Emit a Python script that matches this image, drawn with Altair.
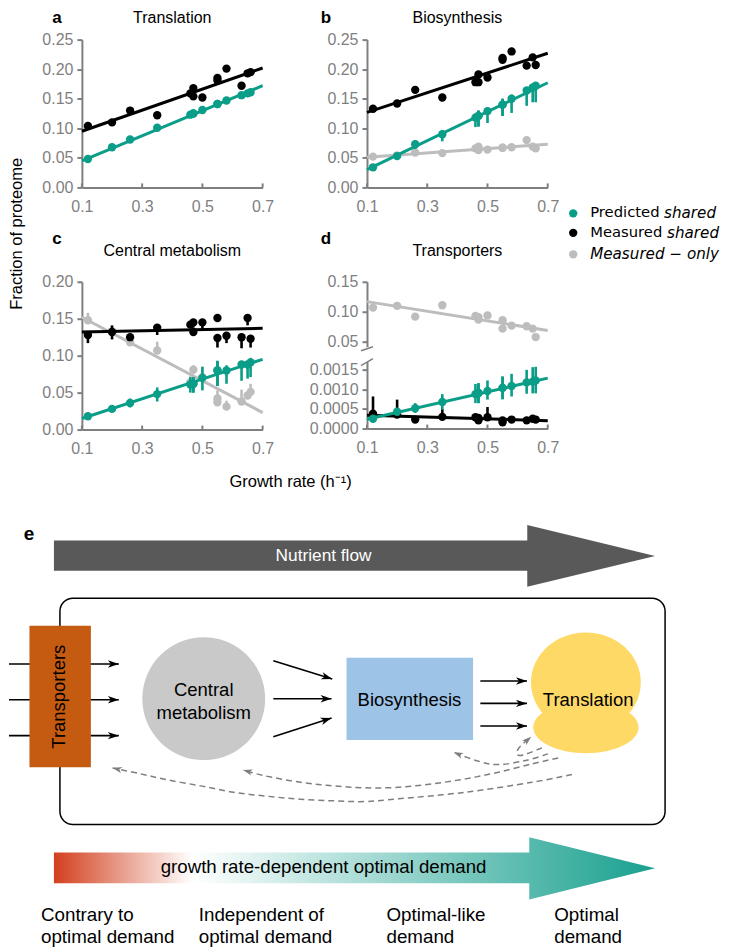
import math
import altair as alt
import pandas as pd

# ---- growth rates shared by all panels
growth = [0.12, 0.20, 0.26, 0.35, 0.46, 0.47, 0.47, 0.50, 0.55, 0.55, 0.58, 0.63, 0.65, 0.66]

GREEN = "#0a9d88"
BLACK = "#000000"
GRAY = "#bdbdbd"
AXIS = "#7f7f7f"
SANS = "Liberation Sans"
DEJAVU = "DejaVu Sans"

# ---- panel a
a_black = [0.104, 0.110, 0.130, 0.122, 0.159, 0.168, 0.154, 0.152, 0.185, 0.181, 0.201, 0.172, 0.193, 0.195]
a_green = [0.048, 0.068, 0.081, 0.101, 0.123, 0.125, 0.125, 0.131, 0.141, 0.141, 0.147, 0.156, 0.159, 0.161]
a_black_line = [0.095, 0.202]
a_green_line = [0.045, 0.172]

# ---- panel b
b_black = [0.133, 0.142, 0.165, 0.152, 0.178, 0.191, 0.178, 0.186, 0.219, 0.216, 0.230, 0.206, 0.220, 0.207]
b_green = [0.034, 0.053, 0.073, 0.090, 0.118, 0.121, 0.121, 0.129, 0.140, 0.140, 0.150, 0.164, 0.169, 0.172]
b_green_lo = [0.034, 0.047, 0.065, 0.078, 0.102, 0.103, 0.103, 0.109, 0.121, 0.121, 0.126, 0.138, 0.144, 0.144]
b_green_hi = [0.034, 0.057, 0.080, 0.097, 0.125, 0.130, 0.130, 0.135, 0.150, 0.150, 0.157, 0.169, 0.175, 0.178]
b_gray = [0.052, 0.054, 0.059, 0.058, 0.066, 0.069, 0.063, 0.064, 0.067, 0.067, 0.068, 0.080, 0.069, 0.066]
b_black_line = [0.127, 0.227]
b_green_line = [0.030, 0.177]
b_gray_line = [0.051, 0.073]

# ---- panel c
c_black = [0.128, 0.132, 0.125, 0.138, 0.142, 0.145, 0.132, 0.145, 0.151, 0.124, 0.127, 0.125, 0.151, 0.123]
c_black_lo = [0.117, 0.122, 0.125, 0.128, 0.138, 0.138, 0.132, 0.135, 0.151, 0.111, 0.117, 0.110, 0.141, 0.111]
c_black_hi = [0.128, 0.141, 0.125, 0.142, 0.142, 0.145, 0.132, 0.145, 0.151, 0.124, 0.127, 0.125, 0.151, 0.123]
c_green = [0.018, 0.028, 0.036, 0.048, 0.061, 0.062, 0.062, 0.070, 0.080, 0.080, 0.080, 0.088, 0.088, 0.091]
c_green_lo = [0.016, 0.024, 0.030, 0.038, 0.050, 0.050, 0.050, 0.053, 0.059, 0.059, 0.062, 0.066, 0.069, 0.071]
c_green_hi = [0.020, 0.032, 0.042, 0.057, 0.071, 0.071, 0.071, 0.085, 0.093, 0.093, 0.087, 0.092, 0.092, 0.097]
c_gray = [0.148, 0.133, 0.118, 0.107, 0.064, 0.081, 0.062, 0.071, 0.042, 0.037, 0.031, 0.038, 0.046, 0.051]
c_gray_lo = [0.148, 0.133, 0.118, 0.107, 0.064, 0.081, 0.062, 0.071, 0.042, 0.037, 0.031, 0.038, 0.046, 0.051]
c_gray_hi = [0.158, 0.138, 0.122, 0.119, 0.072, 0.087, 0.068, 0.085, 0.053, 0.045, 0.039, 0.054, 0.052, 0.062]
c_black_line = [0.132, 0.137]
c_green_line = [0.015, 0.095]
c_gray_line = [0.152, 0.023]

# ---- panel d, upper part
d_gray = [0.107, 0.110, 0.092, 0.111, 0.093, 0.087, 0.091, 0.094, 0.086, 0.072, 0.077, 0.076, 0.072, 0.058]
d_gray_line = [0.117, 0.069]

# ---- panel d, lower part
d_green = [0.00025, 0.00043, 0.00052, 0.00068, 0.00088, 0.00091, 0.00091, 0.00096, 0.00104, 0.00104, 0.00109, 0.00118, 0.00120, 0.00123]
d_green_lo = [0.00025, 0.00037, 0.00040, 0.00048, 0.00065, 0.00065, 0.00065, 0.00074, 0.00075, 0.00075, 0.00082, 0.00089, 0.00090, 0.00090]
d_green_hi = [0.00025, 0.00049, 0.00065, 0.00088, 0.00114, 0.00116, 0.00116, 0.00123, 0.00133, 0.00133, 0.00140, 0.00150, 0.00157, 0.00158]
d_black = [0.00038, 0.00036, 0.00023, 0.00030, 0.00029, 0.00021, 0.00027, 0.00029, 0.00021, 0.00016, 0.00023, 0.00021, 0.00025, 0.00023]
d_black_lo = list(d_black)
d_black_hi = [0.00082, 0.00074, 0.00023, 0.00050, 0.00029, 0.00021, 0.00027, 0.00055, 0.00021, 0.00016, 0.00023, 0.00021, 0.00025, 0.00023]
d_black_line = [0.00034, 0.00020]
d_green_line = [0.00024, 0.00129]

x_ends = [0.1, 0.7]
x_ticks = [0.1, 0.3, 0.5, 0.7]

W = 181


def x_enc(show=True):
    axis = alt.Axis(values=x_ticks, format=".1f", title=None, ticks=False, labelPadding=11, labelFlush=False) if show else None
    return alt.X("x:Q", scale=alt.Scale(domain=x_ends, nice=False, zero=False), axis=axis)


def y_enc(domain, ticks, fmt):
    return alt.Y("y:Q", scale=alt.Scale(domain=domain, nice=False, zero=False),
                 axis=alt.Axis(values=ticks, format=fmt, title=None, labelFlush=False))


def series(ys, line, color, y, lo=None, hi=None, xa=True):
    layers = []
    layers.append(alt.Chart(pd.DataFrame({"x": x_ends, "y": line})).mark_line(color=color, strokeWidth=3, clip=False)
                  .encode(x=x_enc(xa), y=y))
    if lo is not None:
        layers.append(alt.Chart(pd.DataFrame({"x": growth, "y": lo, "y2": hi})).mark_rule(color=color, strokeWidth=2.6)
                      .encode(x=x_enc(xa), y=y, y2="y2:Q"))
    layers.append(alt.Chart(pd.DataFrame({"x": growth, "y": ys})).mark_point(filled=True, color=color, size=70, opacity=1)
                  .encode(x=x_enc(xa), y=y))
    return layers


def label(text, px, py, size=16, weight="normal", color="#000000", font=SANS, align="center", angle=0, style="normal"):
    return alt.Chart(pd.DataFrame({"t": [text]})).mark_text(
        font=font, fontSize=size, fontWeight=weight, color=color, align=align, baseline="middle",
        angle=angle, fontStyle=style
    ).encode(text="t:N", x=alt.value(px), y=alt.value(py))


def panel(layers, w, h, title=None, letter=None, letter_x=-25, tx=True, title_y=-22, letter_y=-21.5):
    out = list(layers)
    if tx:
        out.append(alt.Chart(pd.DataFrame({"x": x_ticks})).mark_rule(color=AXIS, strokeWidth=2)
                   .encode(x=x_enc(True), y=alt.value(h - 4), y2=alt.value(h)))
    if title:
        out.append(label(title, w / 2, title_y))
    if letter:
        out.append(label(letter, letter_x, letter_y, size=17, weight="bold"))
    return alt.layer(*out).properties(width=w, height=h)


ya = y_enc([0, 0.25], [0, 0.05, 0.10, 0.15, 0.20, 0.25], ".2f")
yc = y_enc([0, 0.20], [0, 0.05, 0.10, 0.15, 0.20], ".2f")
yd1 = y_enc([0.042, 0.15], [0.05, 0.10, 0.15], ".2f")
yd2 = y_enc([0, 0.00171], [0, 0.0005, 0.0010, 0.0015], ".4f")

pa = panel(series(a_black, a_black_line, BLACK, ya) + series(a_green, a_green_line, GREEN, ya),
           W, 148, "Translation", "a")
pb = panel(series(b_gray, b_gray_line, GRAY, ya) + series(b_black, b_black_line, BLACK, ya)
           + series(b_green, b_green_line, GREEN, ya, b_green_lo, b_green_hi),
           W, 148, "Biosynthesis", "b", -41)
pc = panel(series(c_gray, c_gray_line, GRAY, yc, c_gray_lo, c_gray_hi)
           + series(c_black, c_black_line, BLACK, yc, c_black_lo, c_black_hi)
           + series(c_green, c_green_line, GREEN, yc, c_green_lo, c_green_hi),
           W, 148, "Central metabolism", "c", title_y=-31, letter_y=-42.5)
brk1 = alt.Chart(pd.DataFrame({"x": [0.1]})).mark_rule(color=AXIS, strokeWidth=1.5).encode(
    x=alt.value(-6), x2=alt.value(6), y=alt.value(69), y2=alt.value(65))
pd1 = alt.layer(*series(d_gray, d_gray_line, GRAY, yd1, xa=False),
                brk1,
                label("Transporters", W / 2, -31),
                label("d", -41, -42.5, size=17, weight="bold")).properties(width=W, height=65)
brk2 = alt.Chart(pd.DataFrame({"x": [0.1]})).mark_rule(color=AXIS, strokeWidth=1.5).encode(
    x=alt.value(-6), x2=alt.value(6), y=alt.value(4), y2=alt.value(-3))
pd2 = panel(series(d_black, d_black_line, BLACK, yd2, d_black_lo, d_black_hi)
            + series(d_green, d_green_line, GREEN, yd2, d_green_lo, d_green_hi) + [brk2],
            W, 67)

# ---- legend
leg_names = ["Predicted ", "Measured ", "Measured \u2212 only"]
leg_colors = [GREEN, BLACK, GRAY]
leg_y = [174, 193.5, 215]
leg_x_dot = 8
leg_x_text = 25
leg_extra = ["shared", "shared"]
leg_extra_x = [99, 102]
LEG = 14.8
LEG_IT = 15.2
leg_layers = []
for n, c, yy in zip(leg_names, leg_colors, leg_y):
    leg_layers.append(alt.Chart(pd.DataFrame({"k": [n]})).mark_point(filled=True, size=70, color=c, opacity=1)
                      .encode(x=alt.value(leg_x_dot), y=alt.value(yy)))
leg_layers.append(label(leg_names[0], leg_x_text, leg_y[0], LEG, font=DEJAVU, align="left"))
leg_layers.append(label(leg_names[1], leg_x_text, leg_y[1], LEG, font=DEJAVU, align="left"))
leg_layers.append(label(leg_names[2], leg_x_text, leg_y[2], LEG_IT, font=DEJAVU, align="left", style="italic"))
leg_layers.append(label(leg_extra[0], leg_extra_x[0], leg_y[0], LEG_IT, font=DEJAVU, align="left", style="italic"))
leg_layers.append(label(leg_extra[1], leg_extra_x[1], leg_y[1], LEG_IT, font=DEJAVU, align="left", style="italic"))
legend = alt.layer(*leg_layers).properties(width=130, height=260)

ylab = alt.layer(label("Fraction of proteome", 8, 194.5, 16.5, angle=270)).properties(width=1, height=300)

# ---- diagram, in its own coordinate system
DX0, DX1 = 8, 722
DY0, DY1 = 460, 945
dx = alt.X("x:Q", scale=alt.Scale(domain=[DX0, DX1], nice=False, zero=False), axis=None)
dy = alt.Y("y:Q", scale=alt.Scale(domain=[DY1, DY0], nice=False, zero=False), axis=None)
dx2 = alt.X2("x2:Q")
dy2 = alt.Y2("y2:Q")

flow_x = [53, 527, 527, 655]
flow_top = [539.5, 539.5, 524, 555]
flow_bot = [570, 570, 586, 555]
demand_x = [53, 529, 529, 655]
demand_top = [852, 852, 836.7, 867.7]
demand_bot = [882.7, 882.7, 899, 867.7]

gradient = alt.Gradient(gradient="linear", x1=0, x2=1, y1=0, y2=0, stops=[
    alt.GradientStop(color="#d2401e", offset=0),
    alt.GradientStop(color="#ffffff", offset=0.23),
    alt.GradientStop(color="#19a08f", offset=1),
])


def arrow_poly(xs, top, bot, **kw):
    return alt.Chart(pd.DataFrame({"x": xs, "y": top, "y2": bot})).mark_area(**kw).encode(x=dx, y=dy, y2=dy2)


def box(x1, x2, y1, y2, **kw):
    return alt.Chart(pd.DataFrame({"x": [x1], "x2": [x2], "y": [y1], "y2": [y2]})).mark_rect(**kw).encode(
        x=dx, x2=dx2, y=dy, y2=dy2)


def dtext(text, x, y, size=18.5, color="#000000", weight="normal", align="center", angle=0, font=SANS):
    return alt.Chart(pd.DataFrame({"x": [x], "y": [y], "t": [text]})).mark_text(
        font=font, fontSize=size, color=color, fontWeight=weight, align=align, baseline="middle", angle=angle
    ).encode(x=dx, y=dy, text="t:N")


def ellipse_path(ratio):
    k = 0.5523
    r = ratio
    return (f"M-1,0C-1,{-k*r} {-k},{-r} 0,{-r}C{k},{-r} 1,{-k*r} 1,0"
            f"C1,{k*r} {k},{r} 0,{r}C{-k},{r} -1,{k*r} -1,0Z")


def ellipse(cx, cy, rx, ry, color):
    return alt.Chart(pd.DataFrame({"x": [cx], "y": [cy]})).mark_point(
        filled=True, shape=ellipse_path(ry / rx), size=(2 * rx) ** 2, color=color, opacity=1, strokeWidth=0
    ).encode(x=dx, y=dy)


HEAD = "M0,0L-2,-0.68L-1.45,0L-2,0.68Z"

# straight black arrows: start x, start y, tip x, tip y
straight = [
    (8, 663.3, 118, 663.3), (8, 699, 118, 699), (8, 735, 118, 735),
    (272.7, 660, 331.7, 678.3), (272.7, 698, 331, 698), (272.7, 736, 331, 717.3),
    (480, 680.3, 526.7, 680.3), (480, 702.7, 526.7, 702.7), (480, 725.3, 526.7, 725.3),
]
straight_df = pd.DataFrame(straight, columns=["x", "y", "x2", "y2"])
left_df = straight_df.iloc[:3]
other_df = straight_df.iloc[3:]
tips_df = pd.DataFrame({
    "x": straight_df["x2"], "y": straight_df["y2"],
    "a": [math.degrees(math.atan2(r.y2 - r.y, r.x2 - r.x)) for r in straight_df.itertuples()],
})


def lines(df):
    return alt.Chart(df).mark_rule(color="#000000", strokeWidth=1.6).encode(x=dx, y=dy, x2=dx2, y2=dy2)


# dashed feedback curves
curve_1 = [(541.7, 747.3), (523.3, 754.3), (517.7, 754.3), (516.7, 750.7), (520.7, 745), (531, 736)]
curve_2 = [(547.7, 753.3), (525, 760), (498.3, 764), (478.3, 760.7), (453.3, 751.7)]
curve_3 = [(558, 757.3), (531.7, 763.3), (498, 771.7), (465, 778.3), (431.7, 783.3), (398, 786.7), (365, 787.3),
           (333, 785.3), (300, 781.7), (263, 775), (242.3, 769.3)]
curve_4 = [(571.7, 774), (531.7, 781.7), (465, 791.7), (398, 798.3), (365, 801), (333, 800.3), (300, 798.7),
           (266.7, 795.7), (233, 791.7), (200, 785.3), (166.7, 779.3), (140, 773.3), (111.7, 767.3)]
curves = []
for i, c in enumerate([curve_1, curve_2, curve_3, curve_4]):
    for j, (px, py) in enumerate(c):
        curves.append({"x": px, "y": py, "c": i, "o": j})
curve_df = pd.DataFrame(curves)
curve_tips = pd.DataFrame({"x": [531, 453.3, 242.3, 111.7], "y": [736, 751.7, 769.3, 767.3], "a": [319, 202, 196, 193]})


def heads(df, color, size):
    return alt.Chart(df).mark_point(filled=True, shape=HEAD, size=size, color=color, opacity=1, strokeWidth=0).encode(
        x=dx, y=dy, angle=alt.Angle("a:Q", scale=None))


diagram = alt.layer(
    dtext("Growth rate (h\u207b\u00b9)", 290, 480.7, 16.5),
    dtext("e", 28, 533, 19, weight="bold"),
    arrow_poly(flow_x, flow_top, flow_bot, color="#595959"),
    dtext("Nutrient flow", 323, 555, 17.3, color="#ffffff"),
    box(59, 665, 597.3, 824, fill="transparent", stroke="#000000", strokeWidth=1.5, cornerRadius=13),
    lines(left_df),
    box(28.5, 90, 625, 766.7, color="#c55a11"),
    dtext("Transporters", 58, 696, 18.5, angle=270),
    lines(other_df),
    heads(tips_df, "#000000", 121),
    ellipse(203, 698, 61.5, 61.5, "#c9c9c9"),
    dtext("Central", 203, 689, 18.5),
    dtext("metabolism", 203, 712, 18.5),
    box(346, 472.7, 657, 739.3, color="#9dc3e6"),
    dtext("Biosynthesis", 409, 699.5, 18.5),
    ellipse(585.7, 681.7, 55, 50, "#ffd966"),
    ellipse(585.7, 726.7, 52.7, 26, "#ffd966"),
    dtext("Translation", 588, 699, 18.5),
    alt.Chart(curve_df).mark_line(color=AXIS, strokeWidth=1.5, strokeDash=[6, 4], interpolate="cardinal").encode(
        x=dx, y=dy, detail="c:N", order=alt.Order("o:Q")),
    heads(curve_tips, AXIS, 90),
    arrow_poly(demand_x, demand_top, demand_bot, color=gradient),
    dtext("growth rate-dependent optimal demand", 323, 867, 18.7),
    dtext("Contrary to", 40, 915, 18.8, align="left"),
    dtext("optimal demand", 40, 936.5, 18.8, align="left"),
    dtext("Independent of", 198, 915, 18.8, align="left"),
    dtext("optimal demand", 198, 936.5, 18.8, align="left"),
    dtext("Optimal-like", 386, 915, 18.8, align="left"),
    dtext("demand", 386, 936.5, 18.8, align="left"),
    dtext("Optimal", 554, 915, 18.8, align="left"),
    dtext("demand", 554, 936.5, 18.8, align="left"),
).properties(width=DX1 - DX0, height=DY1 - DY0)

col1 = alt.vconcat(pa, pc, spacing=15.5)
inner_d = alt.vconcat(pd1, pd2, spacing=6)
col2 = alt.vconcat(pb, inner_d, spacing=15.5)
left = alt.hconcat(ylab, col1, spacing=15)
right = alt.hconcat(col2, legend, spacing=5.5)
top = alt.hconcat(left, right, spacing=34.5)

chart = alt.vconcat(top, diagram, spacing=4).properties(padding=0, background="#ffffff").configure_view(
    stroke=None
).configure_axis(
    grid=False, domainColor=AXIS, domainWidth=2, tickColor=AXIS, tickWidth=2, tickSize=5,
    labelColor=AXIS, labelFont=SANS, labelFontSize=16, labelPadding=4
)

chart.save("out.html", embed_options={"renderer": "svg", "actions": False})
